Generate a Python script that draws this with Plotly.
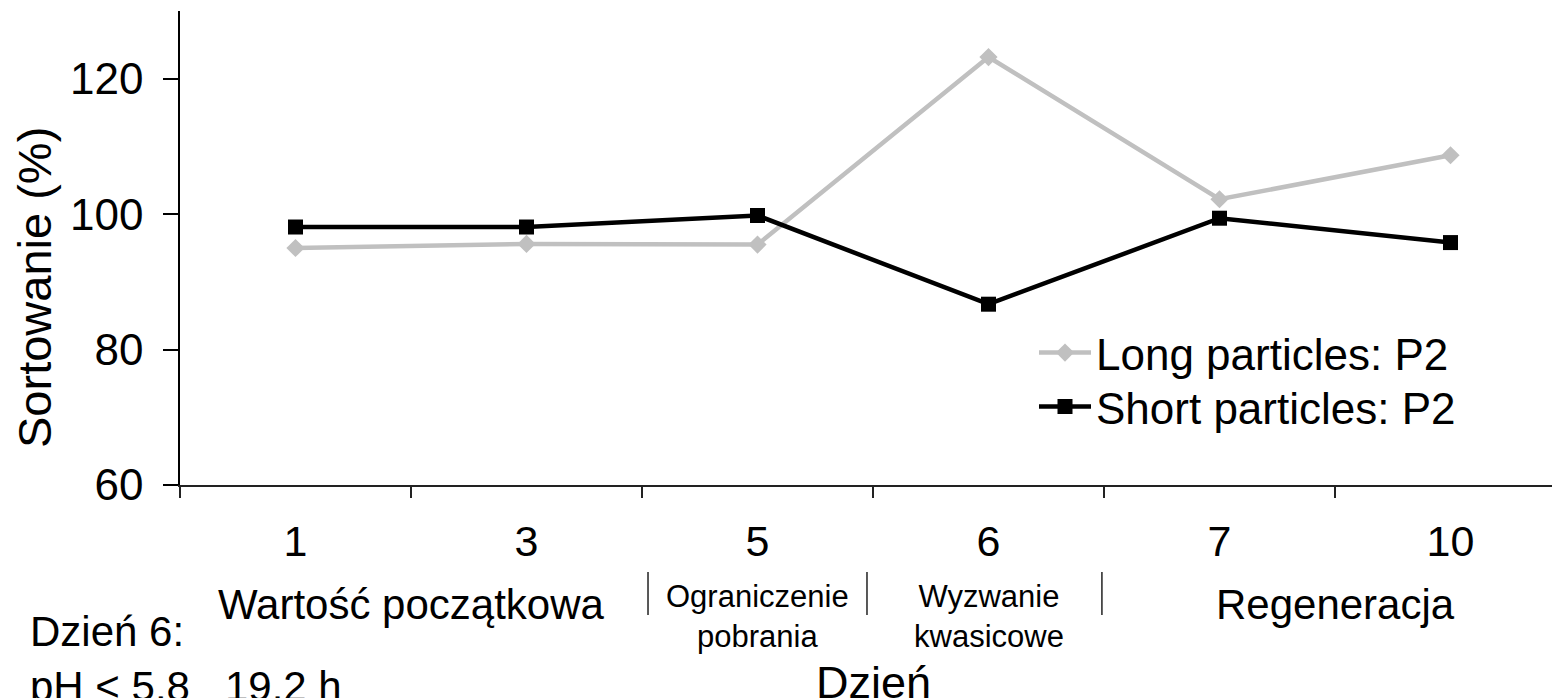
import plotly.graph_objects as go

days = ["1", "3", "5", "6", "7", "10"]
long_vals = [95.0, 95.6, 95.5, 123.2, 102.2, 108.7]
short_vals = [98.1, 98.1, 99.8, 86.7, 99.4, 95.8]
long_name = "Long particles: P2"
short_name = "Short particles: P2"
y_ticks = [60, 80, 100, 120]
groups = ["Wartość początkowa", "Ograniczenie<br>pobrania", "Wyzwanie<br>kwasicowe", "Regeneracja"]
group_spans = [(0, 1), (2, 2), (3, 3), (4, 5)]
group_small = [False, True, True, False]

FONT = "Liberation Sans, Arial, sans-serif"
W, H = 1560, 698
OFF = 8  # page body margin of the browser
# plot area in screen pixels: left 180, top 11, bottom 485, right 1566
ML = 180 - OFF
MT = 11 - OFF
MB = H - (485 - OFF)
MR = W - (1566 - OFF)
PH = H - MT - MB
PW = W - ML - MR


def py(screen_y):
    return (485 - screen_y) / PH


def px(screen_x):
    return (screen_x - 180) / PW


fig = go.Figure()
fig.add_trace(go.Scatter(
    x=days, y=long_vals, name=long_name, mode="lines+markers", legend="legend",
    line=dict(color="#C0C0C0", width=4.5),
    marker=dict(symbol="diamond", size=14, color="#C0C0C0"),
))
fig.add_trace(go.Scatter(
    x=days, y=short_vals, name=short_name, mode="lines+markers", legend="legend2",
    line=dict(color="#000000", width=4.5),
    marker=dict(symbol="square", size=15, color="#000000"),
))

annotations = []
for label, (a, b), small in zip(groups, group_spans, group_small):
    if small:
        annotations.append(dict(
            x=(a + b) / 2, xref="x", y=py(577), yref="paper",
            text=label, showarrow=False, xanchor="center", yanchor="top",
            font=dict(family=FONT, size=31, color="#000"),
        ))
    else:
        annotations.append(dict(
            x=(a + b) / 2, xref="x", y=py(604), yref="paper",
            text=label, showarrow=False, xanchor="center", yanchor="middle",
            font=dict(family=FONT, size=42, color="#000"),
        ))

annotations.append(dict(
    x=0.5, xref="paper", y=py(682), yref="paper", text="Dzień", showarrow=False,
    xanchor="center", yanchor="middle", font=dict(family=FONT, size=45, color="#000"),
))
annotations.append(dict(
    x=px(28), xref="paper", y=py(631), yref="paper", text="Dzień 6:",
    showarrow=False, xanchor="left", yanchor="middle", font=dict(family=FONT, size=42, color="#000"),
))
annotations.append(dict(
    x=px(28), xref="paper", y=py(686), yref="paper",
    text="pH < 5.8\u00a0\u00a0\u00a019.2 h",
    showarrow=False, xanchor="left", yanchor="middle", font=dict(family=FONT, size=42, color="#000"),
))
annotations.append(dict(
    x=px(34), xref="paper", y=py(288), yref="paper", text="Sortowanie (%)",
    textangle=-90, showarrow=False, xanchor="center", yanchor="middle",
    font=dict(family=FONT, size=47, color="#000"),
))

shapes = []
for xs in [-0.509, 1.526, 2.474, 3.491, 5.457]:
    shapes.append(dict(type="line", xref="x", yref="paper", x0=xs, x1=xs,
                       y0=py(572), y1=py(615), line=dict(color="#222", width=1.5)))

legend_common = dict(xanchor="left", yanchor="middle",
                     font=dict(family=FONT, size=44, color="#000"),
                     bgcolor="rgba(0,0,0,0)", itemwidth=52, borderwidth=0)

fig.update_layout(
    template="none",
    width=W, height=H,
    margin=dict(l=ML, r=MR, t=MT, b=MB, pad=0, autoexpand=False),
    paper_bgcolor="white", plot_bgcolor="white",
    font=dict(family=FONT, size=42, color="#000"),
    showlegend=True,
    legend=dict(x=px(1034), y=py(353), **legend_common),
    legend2=dict(x=px(1034), y=py(407), **legend_common),
    annotations=annotations,
    shapes=shapes,
)
fig.update_xaxes(
    type="category", range=[-0.5, 5.5], showgrid=False, zeroline=False, automargin=False,
    showline=True, linecolor="#222", linewidth=1.5,
    ticks="outside", tickson="boundaries", ticklen=11, tickwidth=1.5, tickcolor="#222",
    tickfont=dict(family=FONT, size=43, color="#000"), ticklabelstandoff=18,
)
fig.update_yaxes(
    range=[60, 130], showgrid=False, zeroline=False, automargin=False,
    showline=True, linecolor="#000", linewidth=1.5,
    tickmode="array", tickvals=y_ticks,
    ticks="outside", ticklen=15, tickwidth=1.5, tickcolor="#000",
    tickfont=dict(family=FONT, size=44, color="#000"), ticklabelstandoff=11,
)

fig.write_html("out.html")
